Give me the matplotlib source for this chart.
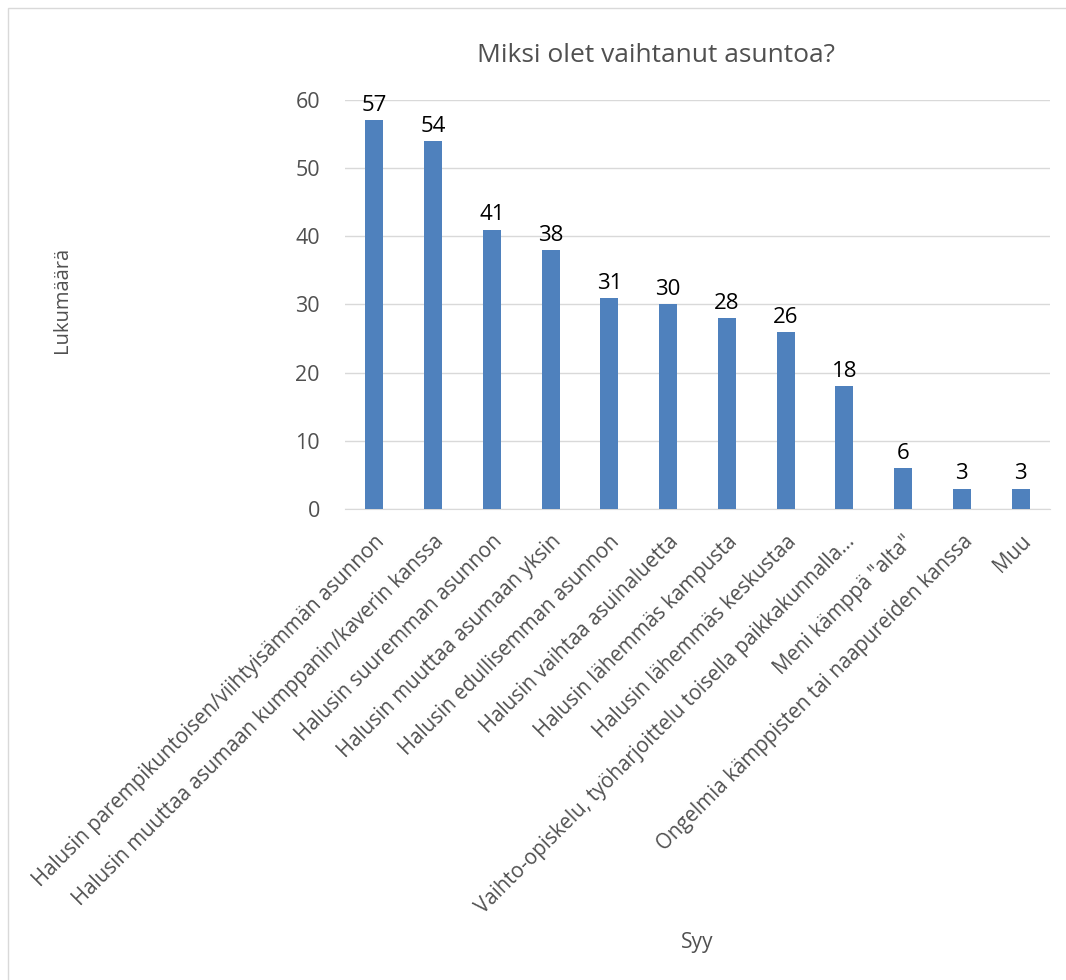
import matplotlib
matplotlib.use("Agg")
import matplotlib.pyplot as plt
from matplotlib.patches import Rectangle

categories = [
    "Halusin parempikuntoisen/viihtyisämmän asunnon",
    "Halusin muuttaa asumaan kumppanin/kaverin kanssa",
    "Halusin suuremman asunnon",
    "Halusin muuttaa asumaan yksin",
    "Halusin edullisemman asunnon",
    "Halusin vaihtaa asuinaluetta",
    "Halusin lähemmäs kampusta",
    "Halusin lähemmäs keskustaa",
    "Vaihto-opiskelu, työharjoittelu toisella paikkakunnalla...",
    "Meni kämppä \"alta\"",
    "Ongelmia kämppisten tai naapureiden kanssa",
    "Muu",
]
values = [57, 54, 41, 38, 31, 30, 28, 26, 18, 6, 3, 3]
yticks = [0, 10, 20, 30, 40, 50, 60]

title = "Miksi olet vaihtanut asuntoa?"
ylabel = "Lukumäärä"
xlabel = "Syy"

plt.rcParams['font.family'] = ['Open Sans', 'DejaVu Sans']
txt = "#505050"

fig = plt.figure(figsize=(10.66, 9.8), dpi=100)
ax = fig.add_axes([345/1066, 1 - 509/980, 705/1066, 409/980])

x = list(range(len(categories)))
bars = ax.bar(x, values, width=0.31, color="#4F81BD", zorder=3)
for xi, v in zip(x, values):
    ax.annotate(str(v), (xi, v), xytext=(0, 3), textcoords="offset points",
                ha="center", va="bottom", fontsize=16, color="black")

ax.set_xlim(-0.5, len(categories) - 0.5)
ax.set_ylim(0, 60)
ax.set_yticks(yticks)
ax.yaxis.grid(True, color="#d9d9d9", linewidth=1, zorder=0)
for s in ["top", "right", "left"]:
    ax.spines[s].set_visible(False)
ax.spines["bottom"].set_color("#d9d9d9")
ax.tick_params(axis="both", length=0, colors=txt, labelsize=15.5)
ax.tick_params(axis="y", pad=18)
ax.set_xticks(x)
ax.set_xticklabels(categories, rotation=45, ha="right", rotation_mode="anchor", fontsize=14.8)
ax.tick_params(axis="x", pad=16)

fig.text(656/1066, 1 - 55/980, title, ha="center", va="center", fontsize=19, color=txt)
fig.text(62/1066, 1 - 300/980, ylabel, ha="center", va="center", rotation=90, fontsize=14.5, color=txt)
fig.text(697/1066, 1 - 942/980, xlabel, ha="center", va="center", fontsize=15, color=txt)

fig.patches.append(Rectangle((8/1066, -0.01), 1.0, 1 - 8/980 + 0.01, transform=fig.transFigure,
                             fill=False, edgecolor="#d9d9d9", linewidth=1))

fig.savefig("out.png", dpi=100)
